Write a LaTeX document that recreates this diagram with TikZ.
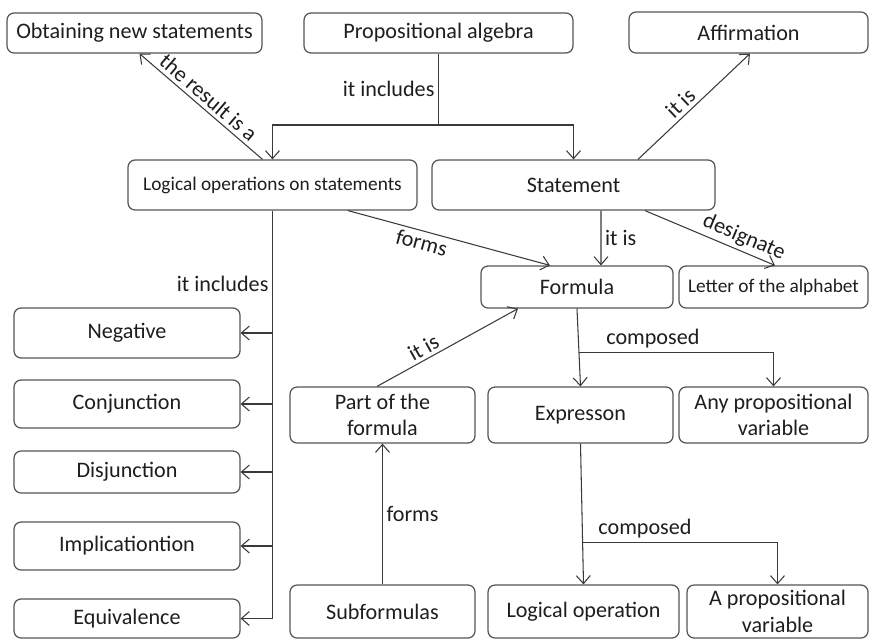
\documentclass[tikz,border=0pt]{standalone}
\usepackage{fontspec}
\setmainfont{Carlito}
\usetikzlibrary{arrows.meta,calc}
\definecolor{Frame}{HTML}{555555}
\definecolor{Wire}{HTML}{3A3A3A}
\definecolor{Ink}{HTML}{1E1E1E}
\tikzset{concept/.style={rectangle,rounded corners=4pt,draw=Frame,line width=0.7pt,fill=white,align=center,text=Ink,inner sep=2pt,font=\fontsize{12.6}{15}\selectfont},smallconcept/.style={concept,font=\fontsize{11}{13}\selectfont},link/.style={draw=Wire,line width=0.6pt,-{Straight Barb[length=1.6mm,width=2.8mm]}},plainlink/.style={draw=Wire,line width=0.6pt},tag/.style={text=Ink,font=\fontsize{12.6}{15}\selectfont,inner sep=2pt}}

\begin{document}
\begin{tikzpicture}[x=0.02cm,y=-0.02cm]
\useasboundingbox[fill=white] (0,0) rectangle (869,640);
\node[concept,minimum width=5.1cm,minimum height=0.8cm] (OB) at (134.5,33) {Obtaining new statements};
\node[concept,minimum width=5.38cm,minimum height=0.8cm] (PA) at (438.5,33) {Propositional algebra};
\node[concept,minimum width=4.78cm,minimum height=0.82cm] (AF) at (748.5,32.5) {Affirmation};
\node[smallconcept,minimum width=5.78cm,minimum height=1cm] (LO) at (272.5,185) {Logical operations on statements};
\node[concept,minimum width=5.66cm,minimum height=1cm] (ST) at (573.5,185) {Statement};
\node[concept,minimum width=3.84cm,minimum height=0.84cm] (FO) at (577,287) {Formula};
\node[smallconcept,minimum width=3.78cm,minimum height=0.84cm] (LT) at (773.5,287) {Letter of the alphabet};
\node[concept,minimum width=4.52cm,minimum height=1cm] (NE) at (127,333) {Negative};
\node[concept,minimum width=4.52cm,minimum height=0.96cm] (CJ) at (127,404) {Conjunction};
\node[concept,minimum width=4.52cm,minimum height=0.84cm] (DJ) at (127,472) {Disjunction};
\node[concept,minimum width=4.52cm,minimum height=0.96cm] (IM) at (127,546) {Implicationtion};
\node[concept,minimum width=4.52cm,minimum height=0.78cm] (EQ) at (127,618.5) {Equivalence};
\node[concept,minimum width=3.7cm,minimum height=1.12cm] (PF) at (382.5,415) {Part of the\\formula};
\node[concept,minimum width=3.7cm,minimum height=1.06cm] (SF) at (382.5,611.5) {Subformulas};
\node[concept,minimum width=3.7cm,minimum height=1.12cm] (EX) at (580.5,415) {Expresson};
\node[concept,minimum width=3.78cm,minimum height=1.12cm] (AV) at (773.5,415) {Any propositional\\variable};
\node[concept,minimum width=3.82cm,minimum height=1.06cm] (LP) at (583.5,611.5) {Logical operation};
\node[concept,minimum width=3.62cm,minimum height=1.06cm] (PV) at (777.5,611.5) {A propositional\\variable};
\coordinate (j1) at (438.5,125);
\draw[plainlink] (PA.south) -- node[tag,left] {it includes} (j1);
\draw[link] (j1) -| (LO.north);
\draw[link] (j1) -| (ST.north);
\draw[link] ($(LO.north)+(-10,0)$) -- node[tag,sloped,above] {the result is a} ($(OB.south)+(5,0)$);
\draw[link] ($(ST.north)+(64.5,0)$) -- node[tag,sloped,above,pos=0.45] {it is} ($(AF.south)+(1.5,0)$);
\draw[plainlink] (LO.south) -- node[tag,left,pos=0.18] {it includes} (LO.south |- EQ.east);
\draw[link] (LO.south |- EQ.east) -- (EQ.east);
\draw[link] (LO.south |- NE.east) -- (NE.east);
\draw[link] (LO.south |- CJ.east) -- (CJ.east);
\draw[link] (LO.south |- DJ.east) -- (DJ.east);
\draw[link] (LO.south |- IM.east) -- (IM.east);
\draw[link] ($(LO.south)+(75.5,0)$) -- node[tag,sloped,below,pos=0.38] {forms} ($(FO.north)+(-27,0)$);
\draw[link] ($(ST.south)+(27.5,0)$) -- node[tag,right] {it is} ($(FO.north)+(24,0)$);
\draw[link] ($(ST.south)+(71.5,0)$) -- node[tag,sloped,above,pos=0.72] {designate} ($(LT.north)+(1.5,0)$);
\draw[link] ($(PF.north)+(-5.5,0)$) -- node[tag,sloped,above,pos=0.37] {it is} ($(FO.south)+(-59,0)$);
\draw[link] (FO.south) -- (EX.north);
\coordinate (j2) at ($(FO.south)!0.56!(EX.north)$);
\draw[link] (j2) -| node[tag,above,pos=0.19] {composed} (AV.north);
\draw[link] (EX.south) -- (LP.north);
\coordinate (j3) at ($(EX.south)!0.7!(LP.north)$);
\draw[link] (j3) -| node[tag,above,pos=0.16] {composed} (PV.north);
\draw[link] (SF.north) -- node[tag,right] {forms} (PF.south);
\end{tikzpicture}
\end{document}
